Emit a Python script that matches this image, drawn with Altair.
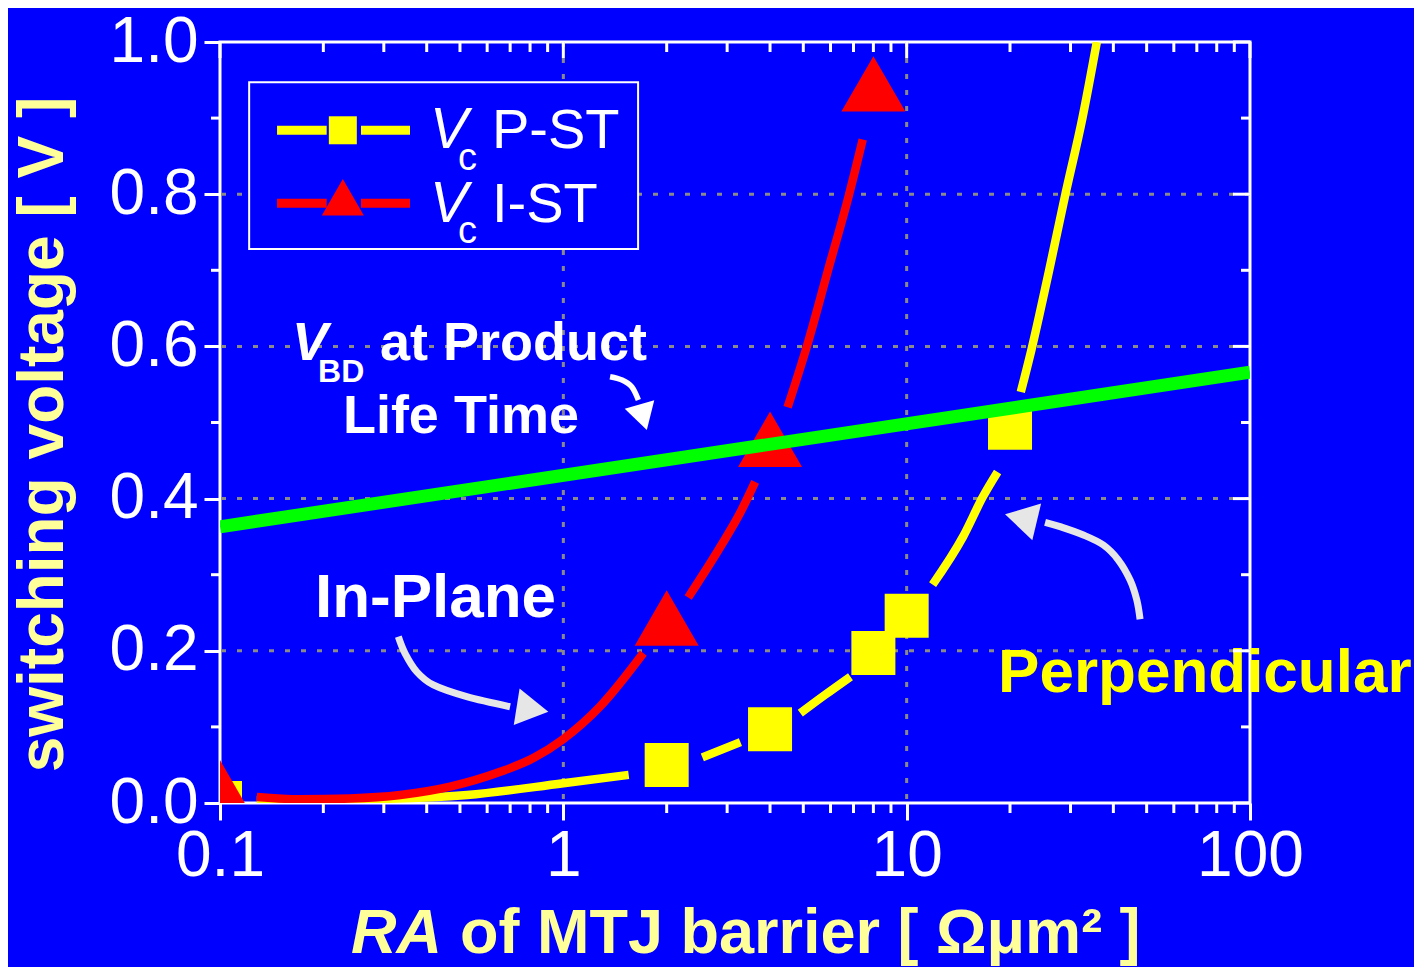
import altair as alt
import pandas as pd

# ---------------- data ----------------
# Vc I-ST (in-plane) measured points
ist_ra = [0.1, 2, 4, 8]
ist_vc = [0.02, 0.243, 0.478, 0.945]
# Vc P-ST (perpendicular) measured points
pst_ra = [0.1, 2, 4, 8, 10, 20]
pst_vc = [0.0, 0.05, 0.097, 0.197, 0.246, 0.493]

# guide curves (broken around markers)
ist_fit_seg = [1] * 10 + [2] * 4 + [3] * 5
ist_fit_ra = [0.128, 0.171, 0.239, 0.335, 0.468, 0.655, 0.818, 0.993, 1.28, 1.71,
              2.31, 2.87, 3.28, 3.62,
              4.5, 5.12, 5.9, 6.8, 7.45]
ist_fit_v = [0.008, 0.005, 0.006, 0.0105, 0.0215, 0.041, 0.059, 0.083, 0.127, 0.197,
             0.27, 0.337, 0.382, 0.422,
             0.52, 0.6, 0.7, 0.8, 0.872]

pst_fit_seg = [1] * 5 + [2] * 2 + [3] * 3 + [4] * 4 + [5] * 6
pst_fit_ra = [0.128, 0.268, 0.525, 1.0, 1.55,
              2.54, 3.28,
              4.9, 5.78, 6.86,
              11.9, 14.6, 16.7, 18.4,
              21.5, 23.1, 26.0, 29.0, 32.5, 35.8]
pst_fit_v = [0.004, 0.005, 0.0105, 0.026, 0.037,
             0.06, 0.08,
             0.118, 0.142, 0.166,
             0.287, 0.35, 0.403, 0.435,
             0.54, 0.596, 0.70, 0.80, 0.90, 1.0]

# V_BD at product life time
vbd_ra = [0.1, 100]
vbd_v = [0.363, 0.566]

# axis ticks
x_major = [0.1, 1, 10, 100]
x_minor = [0.2, 0.3, 0.4, 0.5, 0.6, 0.7, 0.8, 0.9,
           2, 3, 4, 5, 6, 7, 8, 9,
           20, 30, 40, 50, 60, 70, 80, 90]
y_major = [0.0, 0.2, 0.4, 0.6, 0.8, 1.0]
y_minor = [0.1, 0.3, 0.5, 0.7, 0.9]

# ---------------- styling ----------------
FONT = "Liberation Sans"
BLUE = "#0000ff"
YELLOW = "#ffff00"
RED = "#ff0000"
GREEN = "#00ff00"
WHITE = "#ffffff"
PALE = "#ffff99"
GRID = "#8a8a8a"
ARROW_GREY = "#e6e6e6"
W, H = 1030, 761

xs = alt.Scale(type="log", domain=[0.1, 100], nice=False)
ys = alt.Scale(domain=[0, 1], zero=False, nice=False)

xaxis = alt.Axis(
    values=x_major, title=None, domain=False, format="~g", grid=False,
    labelFont=FONT, labelFontSize=64, labelColor=WHITE, labelPadding=4,
    labelOverlap=False, labelFlush=False, labelBound=False,
    tickColor=WHITE, tickWidth=3, tickSize=17,
)
yaxis = alt.Axis(
    values=y_major, domain=False, format=".1f", grid=False,
    title="switching voltage [ V ]", titleFont=FONT, titleFontSize=64,
    titleFontWeight="bold", titleColor=PALE, titleAngle=270,
    titleX=-158, titleY=392, titleAlign="center", titleBaseline="alphabetic",
    labelFont=FONT, labelFontSize=64, labelColor=WHITE, labelPadding=6,
    labelOverlap=False, labelFlush=False, labelBound=False,
    tickColor=WHITE, tickWidth=3, tickSize=16,
)


def X(f="x"):
    return alt.X(f"{f}:Q", scale=xs, axis=xaxis)


def Y(f="y"):
    return alt.Y(f"{f}:Q", scale=ys, axis=yaxis)


layers = []

# dotted grid at inner major ticks
layers.append(alt.Chart(pd.DataFrame({"x": x_major[1:-1]})).mark_rule(
    color=GRID, strokeWidth=3, strokeDash=[5, 11]).encode(x=X()))
layers.append(alt.Chart(pd.DataFrame({"y": y_major[1:-1]})).mark_rule(
    color=GRID, strokeWidth=3, strokeDash=[5, 11]).encode(y=Y()))

# fitted guide curves
df_pst_fit = pd.DataFrame({"x": pst_fit_ra, "y": pst_fit_v, "seg": pst_fit_seg})
df_ist_fit = pd.DataFrame({"x": ist_fit_ra, "y": ist_fit_v, "seg": ist_fit_seg})
layers.append(alt.Chart(df_pst_fit).mark_line(
    color=YELLOW, strokeWidth=8.5, interpolate="monotone", clip=True, strokeCap="butt"
).encode(x=X(), y=Y(), detail="seg:N"))
layers.append(alt.Chart(df_ist_fit).mark_line(
    color=RED, strokeWidth=8.5, interpolate="monotone", clip=True, strokeCap="butt"
).encode(x=X(), y=Y(), detail="seg:N"))

# legend (drawn in data space, top-left of the plot)
lg_box = pd.DataFrame({"x": [0.1216], "x2": [1.651], "y": [0.728], "y2": [0.947]})
layers.append(alt.Chart(lg_box).mark_rect(fill=BLUE, stroke=WHITE, strokeWidth=2).encode(
    x=X(), x2="x2:Q", y=Y(), y2="y2:Q"))
lg_rows = [0.884, 0.788]
for row_y, col in zip(lg_rows, [YELLOW, RED]):
    seg = pd.DataFrame({"x": [0.1466, 0.2574], "x2": [0.2045, 0.3576], "y": [row_y, row_y]})
    layers.append(alt.Chart(seg).mark_rule(color=col, strokeWidth=9, strokeCap="butt").encode(
        x=X(), x2="x2:Q", y=Y()))
layers.append(alt.Chart(pd.DataFrame({"x": [0.2279], "y": [lg_rows[0]]})).mark_point(
    shape="square", filled=True, size=784, color=YELLOW, opacity=1, strokeWidth=0
).encode(x=X(), y=Y()))
layers.append(alt.Chart(pd.DataFrame({"x": [0.2279], "y": [0.796]})).mark_point(
    shape="triangle-up", filled=True, size=1764, color=RED, opacity=1, strokeWidth=0
).encode(x=X(), y=Y()))


def text_layer(xv, yv, texts, size, weight="normal", style="normal", color=WHITE, align="left"):
    df = pd.DataFrame({"x": xv, "y": yv, "t": texts})
    return alt.Chart(df).mark_text(
        align=align, baseline="alphabetic", font=FONT, fontSize=size,
        fontWeight=weight, fontStyle=style, color=color
    ).encode(x=X(), y=Y(), text="t:N")


layers.append(text_layer([0.409, 0.409], [0.861, 0.7635], ["V", "V"], 57, style="italic"))
layers.append(text_layer([0.4935, 0.4935], [0.832, 0.7359], ["c", "c"], 38))
layers.append(text_layer([0.6198, 0.6198], [0.861, 0.7635], ["P-ST", "I-ST"], 56))

# measured markers
layers.append(alt.Chart(pd.DataFrame({"x": pst_ra, "y": pst_vc})).mark_point(
    shape="square", filled=True, size=1936, color=YELLOW, opacity=1, strokeWidth=0, clip=True
).encode(x=X(), y=Y()))
layers.append(alt.Chart(pd.DataFrame({"x": ist_ra, "y": ist_vc})).mark_point(
    shape="triangle-up", filled=True, size=4096, color=RED, opacity=1, strokeWidth=0, clip=True
).encode(x=X(), y=Y()))

# V_BD line
layers.append(alt.Chart(pd.DataFrame({"x": vbd_ra, "y": vbd_v})).mark_line(
    color=GREEN, strokeWidth=13, clip=True, strokeCap="butt"
).encode(x=X(), y=Y()))


# curved annotation arrows
def arrow(path, head, angle, size, color, width):
    df = pd.DataFrame({"x": [p[0] for p in path], "y": [p[1] for p in path],
                       "o": list(range(len(path)))})
    shaft = alt.Chart(df).mark_line(
        color=color, strokeWidth=width, interpolate="cardinal", strokeCap="butt"
    ).encode(x=X(), y=Y(), order="o:Q")
    hd = alt.Chart(pd.DataFrame({"x": [head[0]], "y": [head[1]]})).mark_point(
        shape="triangle-up", filled=True, size=size, angle=angle, color=color,
        opacity=1, strokeWidth=0
    ).encode(x=X(), y=Y())
    return [shaft, hd]


layers += arrow([(1.368, 0.5602), (1.4825, 0.5558), (1.582, 0.547), (1.654, 0.5296)],
                (1.708, 0.507), 164, 942, WHITE, 5.5)
layers += arrow([(0.3307, 0.2185), (0.3458, 0.1967), (0.3741, 0.1725), (0.4182, 0.1551),
                 (0.5232, 0.1397), (0.6996, 0.1265)],
                (0.8132, 0.1233), 99, 1369, ARROW_GREY, 7)
layers += arrow([(47.84, 0.2414), (46.8, 0.2668), (44.75, 0.293), (41.36, 0.3193),
                 (37.41, 0.339), (32.71, 0.3522), (27.98, 0.3631), (25.3, 0.3689)],
                (21.51, 0.3744), 283.5, 1414, ARROW_GREY, 7)

# annotation texts
layers.append(text_layer([0.162], [0.5821], ["V"], 54, weight="bold", style="italic"))
layers.append(text_layer([0.193], [0.5532], ["BD"], 32, weight="bold"))
layers.append(text_layer([0.2922, 0.228], [0.5821, 0.4862], ["at Product", "Life Time"], 54, weight="bold"))
layers.append(text_layer([0.189], [0.2444], ["In-Plane"], 62, weight="bold"))
layers.append(text_layer([18.46], [0.1459], ["Perpendicular"], 62, weight="bold", color=YELLOW))


# minor ticks (outward on bottom/left) and mirrored inward ticks on top/right
def rule(df, **enc):
    return alt.Chart(df).mark_rule(color=WHITE, strokeWidth=3).encode(**enc)


dxmaj = pd.DataFrame({"x": x_major})
dxmin = pd.DataFrame({"x": x_minor})
dymaj = pd.DataFrame({"y": y_major})
dymin = pd.DataFrame({"y": y_minor})
layers.append(rule(dxmin, x=X(), y=alt.value(H), y2=alt.value(H + 10)))
layers.append(rule(dymin, y=Y(), x=alt.value(0), x2=alt.value(-9)))
layers.append(rule(dxmaj, x=X(), y=alt.value(0), y2=alt.value(16)))
layers.append(rule(dxmin, x=X(), y=alt.value(0), y2=alt.value(10)))
layers.append(rule(dymaj, y=Y(), x=alt.value(W), x2=alt.value(W - 17)))
layers.append(rule(dymin, y=Y(), x=alt.value(W), x2=alt.value(W - 9)))

# x-axis title (italic "RA" + bold rest)
layers.append(alt.Chart(pd.DataFrame({"t": ["RA"]})).mark_text(
    align="right", baseline="alphabetic", font=FONT, fontSize=63, fontWeight="bold",
    fontStyle="italic", color=PALE
).encode(x=alt.value(222), y=alt.value(911), text="t:N"))
layers.append(alt.Chart(pd.DataFrame({"t": ["of MTJ barrier [ Ωμm² ]"]})).mark_text(
    align="left", baseline="alphabetic", font=FONT, fontSize=63, fontWeight="bold", color=PALE
).encode(x=alt.value(240), y=alt.value(911), text="t:N"))

chart = alt.layer(*layers).properties(
    width=W, height=H,
    autosize=alt.AutoSizeParams(type="none"),
    padding={"left": 212, "top": 34, "right": 164, "bottom": 164},
    background=BLUE,
).configure_view(stroke=WHITE, strokeWidth=3)

chart.save("out.html", embed_options={"renderer": "svg", "actions": False})
